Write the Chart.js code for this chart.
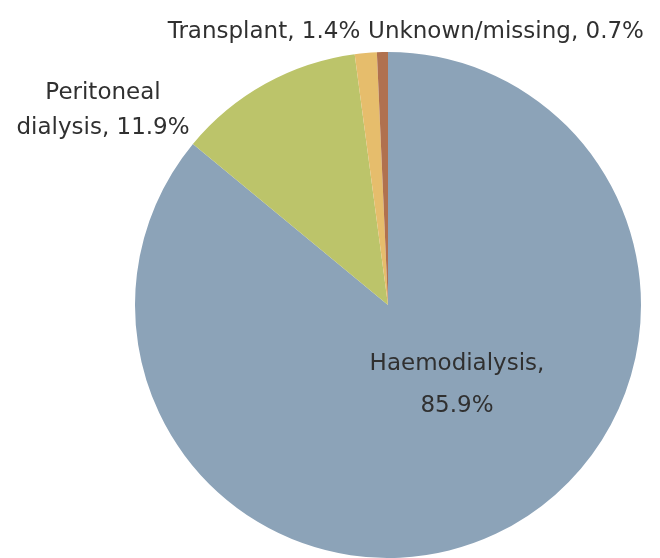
<!DOCTYPE html>
<html>
<head>
<meta charset="utf-8">
<script src="https://cdn.jsdelivr.net/npm/chart.js@4"></script>
<style>
  html, body { margin: 0; padding: 0; background: #fff; }
  #wrap { width: 660px; height: 558px; }
</style>
</head>
<body>
<div id="wrap"><canvas id="grafico" width="660" height="558"></canvas></div>
<script>
const categorias = ['Haemodialysis', 'Peritoneal dialysis', 'Transplant', 'Unknown/missing'];
const valores = [85.9, 11.9, 1.4, 0.7];
const cores = ['#8ca3b8', '#bcc46a', '#e6bd6c', '#b0714f'];

// rótulos: linhas de texto e posição (px na tela, linha de base)
const rotulos = [
  { linhas: ['Haemodialysis,', '85.9%'], x: 457, y: 370, passo: 42 },
  { linhas: ['Peritoneal', 'dialysis, 11.9%'], x: 103, y: 99, passo: 35 },
  { linhas: ['Transplant, 1.4%'], x: 264, y: 38, passo: 0 },
  { linhas: ['Unknown/missing, 0.7%'], x: 506, y: 38, passo: 0 },
];

const pluginRotulos = {
  id: 'rotulos',
  afterDatasetsDraw(chart) {
    const ctx = chart.ctx;
    ctx.save();
    ctx.font = '23px "DejaVu Sans"';
    ctx.fillStyle = '#303030';
    ctx.textAlign = 'center';
    ctx.textBaseline = 'alphabetic';
    rotulos.forEach((r) => {
      r.linhas.forEach((linha, i) => {
        ctx.fillText(linha, r.x, r.y + i * r.passo);
      });
    });
    ctx.restore();
  },
};

new Chart(document.getElementById('grafico'), {
  type: 'pie',
  data: {
    labels: categorias,
    datasets: [{
      data: valores,
      backgroundColor: cores,
      borderWidth: 0,
    }],
  },
  options: {
    responsive: false,
    animation: false,
    layout: { padding: { top: 52, bottom: 0, left: 135, right: 19 } },
    plugins: {
      legend: { display: false },
      tooltip: { enabled: false },
    },
  },
  plugins: [pluginRotulos],
});
</script>
</body>
</html>
